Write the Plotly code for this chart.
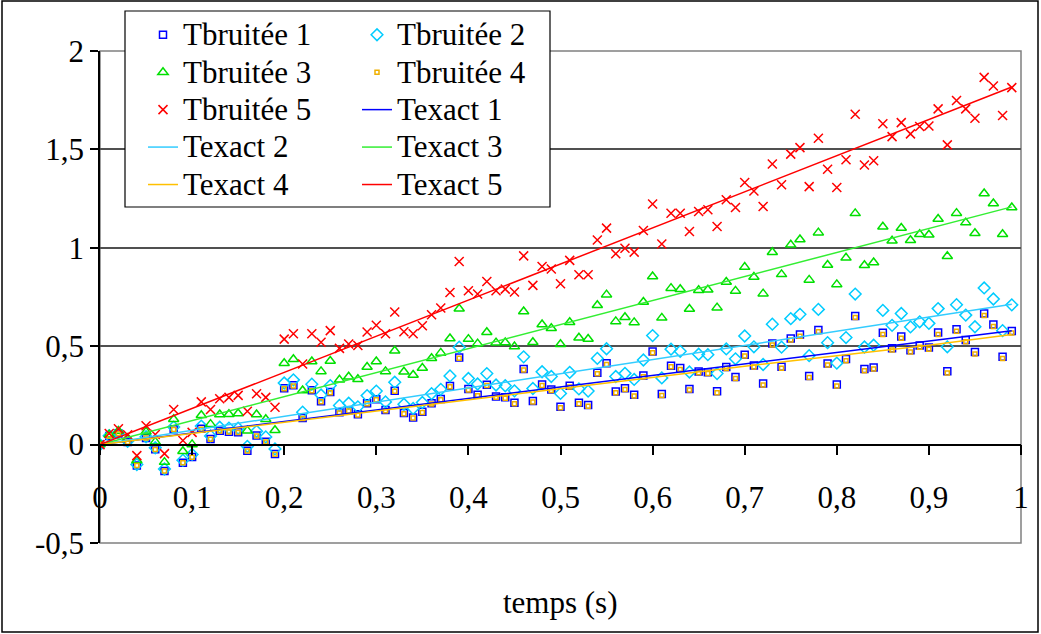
import plotly.graph_objects as go

# ---------------- data ----------------
temps = [0.00, 0.01, 0.02, 0.03, 0.04, 0.05, 0.06, 0.07, 0.08, 0.09,
         0.10, 0.11, 0.12, 0.13, 0.14, 0.15, 0.16, 0.17, 0.18, 0.19,
         0.20, 0.21, 0.22, 0.23, 0.24, 0.25, 0.26, 0.27, 0.28, 0.29,
         0.30, 0.31, 0.32, 0.33, 0.34, 0.35, 0.36, 0.37, 0.38, 0.39,
         0.40, 0.41, 0.42, 0.43, 0.44, 0.45, 0.46, 0.47, 0.48, 0.49,
         0.50, 0.51, 0.52, 0.53, 0.54, 0.55, 0.56, 0.57, 0.58, 0.59,
         0.60, 0.61, 0.62, 0.63, 0.64, 0.65, 0.66, 0.67, 0.68, 0.69,
         0.70, 0.71, 0.72, 0.73, 0.74, 0.75, 0.76, 0.77, 0.78, 0.79,
         0.80, 0.81, 0.82, 0.83, 0.84, 0.85, 0.86, 0.87, 0.88, 0.89,
         0.90, 0.91, 0.92, 0.93, 0.94, 0.95, 0.96, 0.97, 0.98, 0.99]

tbruitee_1 = [0.000, 0.044, 0.056, 0.013, -0.106, 0.034, -0.024, -0.134, 0.078, -0.092,
              -0.063, 0.080, 0.028, 0.071, 0.065, 0.063, -0.031, 0.046, 0.015, -0.048,
              0.286, 0.301, 0.135, 0.276, 0.220, 0.267, 0.164, 0.174, 0.154, 0.210,
              0.231, 0.176, 0.274, 0.161, 0.138, 0.167, 0.210, 0.232, 0.298, 0.443,
              0.282, 0.253, 0.304, 0.245, 0.240, 0.213, 0.384, 0.222, 0.305, 0.280,
              0.192, 0.299, 0.213, 0.201, 0.365, 0.413, 0.270, 0.286, 0.253, 0.351,
              0.473, 0.257, 0.401, 0.389, 0.283, 0.372, 0.368, 0.271, 0.394, 0.343,
              0.457, 0.402, 0.310, 0.514, 0.395, 0.539, 0.559, 0.349, 0.582, 0.412,
              0.306, 0.435, 0.654, 0.384, 0.392, 0.568, 0.490, 0.549, 0.479, 0.504,
              0.494, 0.569, 0.373, 0.586, 0.531, 0.471, 0.666, 0.610, 0.447, 0.577]

tbruitee_2 = [0.000, 0.045, 0.059, 0.017, -0.101, 0.040, -0.016, -0.124, 0.089, -0.079,
              -0.050, 0.094, 0.044, 0.088, 0.084, 0.083, -0.009, 0.068, 0.039, -0.022,
              0.313, 0.329, 0.165, 0.307, 0.252, 0.300, 0.199, 0.210, 0.192, 0.249,
              0.272, 0.217, 0.317, 0.205, 0.184, 0.214, 0.259, 0.281, 0.349, 0.495,
              0.336, 0.308, 0.361, 0.303, 0.299, 0.273, 0.446, 0.285, 0.370, 0.346,
              0.260, 0.367, 0.283, 0.272, 0.438, 0.487, 0.346, 0.362, 0.331, 0.430,
              0.554, 0.339, 0.485, 0.474, 0.369, 0.459, 0.457, 0.361, 0.486, 0.436,
              0.552, 0.497, 0.407, 0.612, 0.495, 0.640, 0.662, 0.452, 0.687, 0.518,
              0.414, 0.544, 0.765, 0.496, 0.505, 0.682, 0.606, 0.666, 0.598, 0.624,
              0.616, 0.691, 0.497, 0.711, 0.658, 0.599, 0.796, 0.740, 0.579, 0.710]

tbruitee_3 = [0.000, 0.050, 0.069, 0.032, -0.081, 0.065, 0.014, -0.089, 0.129, -0.034,
              0.001, 0.149, 0.104, 0.153, 0.154, 0.158, 0.071, 0.153, 0.129, 0.073,
              0.413, 0.434, 0.275, 0.422, 0.372, 0.425, 0.329, 0.345, 0.332, 0.394,
              0.422, 0.372, 0.477, 0.370, 0.354, 0.389, 0.439, 0.466, 0.539, 0.690,
              0.536, 0.513, 0.571, 0.518, 0.519, 0.498, 0.676, 0.520, 0.610, 0.591,
              0.510, 0.622, 0.543, 0.537, 0.708, 0.762, 0.626, 0.647, 0.621, 0.725,
              0.854, 0.644, 0.795, 0.789, 0.689, 0.784, 0.787, 0.696, 0.826, 0.781,
              0.902, 0.852, 0.767, 0.977, 0.865, 1.015, 1.042, 0.837, 1.077, 0.913,
              0.814, 0.949, 1.175, 0.911, 0.925, 1.107, 1.036, 1.101, 1.038, 1.069,
              1.066, 1.146, 0.957, 1.176, 1.128, 1.074, 1.276, 1.225, 1.069, 1.205]

tbruitee_4 = [0.000, 0.043, 0.056, 0.012, -0.106, 0.033, -0.025, -0.134, 0.077, -0.092,
              -0.064, 0.078, 0.027, 0.069, 0.064, 0.061, -0.033, 0.044, 0.013, -0.049,
              0.284, 0.298, 0.133, 0.273, 0.218, 0.264, 0.161, 0.171, 0.151, 0.207,
              0.228, 0.172, 0.271, 0.157, 0.135, 0.163, 0.206, 0.228, 0.294, 0.439,
              0.278, 0.248, 0.300, 0.240, 0.236, 0.208, 0.379, 0.217, 0.300, 0.275,
              0.187, 0.293, 0.208, 0.195, 0.360, 0.407, 0.264, 0.280, 0.247, 0.345,
              0.467, 0.250, 0.395, 0.382, 0.277, 0.365, 0.361, 0.264, 0.387, 0.336,
              0.450, 0.394, 0.303, 0.506, 0.388, 0.531, 0.551, 0.341, 0.574, 0.404,
              0.298, 0.426, 0.646, 0.375, 0.384, 0.559, 0.481, 0.540, 0.470, 0.495,
              0.485, 0.559, 0.364, 0.576, 0.522, 0.461, 0.656, 0.600, 0.437, 0.567]

tbruitee_5 = [0.000, 0.056, 0.081, 0.050, -0.056, 0.096, 0.051, -0.046, 0.178, 0.021,
              0.062, 0.217, 0.178, 0.233, 0.240, 0.250, 0.169, 0.258, 0.240, 0.190,
              0.536, 0.563, 0.410, 0.563, 0.520, 0.579, 0.489, 0.511, 0.504, 0.572,
              0.606, 0.563, 0.674, 0.573, 0.563, 0.604, 0.660, 0.694, 0.773, 0.930,
              0.782, 0.765, 0.829, 0.782, 0.790, 0.775, 0.959, 0.809, 0.905, 0.892,
              0.817, 0.936, 0.863, 0.863, 1.040, 1.100, 0.970, 0.998, 0.978, 1.088,
              1.223, 1.019, 1.176, 1.176, 1.083, 1.184, 1.193, 1.108, 1.244, 1.205,
              1.332, 1.289, 1.210, 1.426, 1.320, 1.476, 1.509, 1.311, 1.557, 1.399,
              1.306, 1.447, 1.679, 1.421, 1.442, 1.630, 1.565, 1.636, 1.579, 1.616,
              1.619, 1.706, 1.523, 1.748, 1.706, 1.658, 1.866, 1.822, 1.672, 1.814]

temps_exact = [0.0, 0.1, 0.2, 0.3, 0.4, 0.5, 0.6, 0.7, 0.8, 0.9, 0.99]
texact_1 = [0.0, 0.0585, 0.117, 0.1755, 0.234, 0.2925, 0.351, 0.4095, 0.468, 0.5265, 0.579]
texact_2 = [0.0, 0.072, 0.144, 0.216, 0.288, 0.360, 0.432, 0.504, 0.576, 0.648, 0.713]
texact_3 = [0.0, 0.122, 0.244, 0.366, 0.488, 0.610, 0.732, 0.854, 0.976, 1.098, 1.208]
texact_4 = [0.0, 0.057, 0.115, 0.172, 0.229, 0.286, 0.342, 0.398, 0.452, 0.505, 0.560]
texact_5 = [0.0, 0.1835, 0.367, 0.5505, 0.734, 0.9175, 1.101, 1.2845, 1.468, 1.6515, 1.817]

x_tick_vals = [0, 0.1, 0.2, 0.3, 0.4, 0.5, 0.6, 0.7, 0.8, 0.9, 1]
x_tick_text = ["0", "0,1", "0,2", "0,3", "0,4", "0,5", "0,6", "0,7", "0,8", "0,9", "1"]
y_tick_vals = [-0.5, 0, 0.5, 1, 1.5, 2]
y_tick_text = ["-0,5", "0", "0,5", "1", "1,5", "2"]
grid_vals = [0.5, 1, 1.5, 2]

# ---------------- figure ----------------
W, H = 1041, 634
ML, MR, MT, MB = 100, 20, 51, 91
PW, PH = W - ML - MR, H - MT - MB
FONT = "Liberation Serif"


def px2x(px):
    return (px - ML) / PW


def py2y(py):
    return (H - MB - py) / PH


def big(name):
    return "<span style='font-size:31px'>" + name + "</span>"


fig = go.Figure()

noisy = [
    ("Tbruitée 1", tbruitee_1, "square-open", 7, "#0000FF", "legend"),
    ("Tbruitée 2", tbruitee_2, "diamond-open", 9, "#00CCFF", "legend2"),
    ("Tbruitée 3", tbruitee_3, "triangle-up-open", 9, "#00E000", "legend"),
    ("Tbruitée 4", tbruitee_4, "square-open", 4, "#F0B000", "legend2"),
    ("Tbruitée 5", tbruitee_5, "x-thin-open", 9, "#FF0000", "legend"),
]
for name, ys, sym, size, col, leg in noisy:
    fig.add_trace(go.Scatter(
        x=temps, y=ys, mode="markers", name=big(name), legend=leg,
        marker=dict(symbol=sym, size=size, color=col, line=dict(color=col, width=1.5)),
    ))

exact = [
    ("Texact 1", texact_1, "#0000FF", 1.5, "legend2"),
    ("Texact 2", texact_2, "#33CCFF", 1.5, "legend"),
    ("Texact 3", texact_3, "#33EE33", 1.5, "legend2"),
    ("Texact 4", texact_4, "#FFC000", 1.5, "legend"),
    ("Texact 5", texact_5, "#FF0000", 1.5, "legend2"),
]
for name, ys, col, w, leg in exact:
    fig.add_trace(go.Scatter(
        x=temps_exact, y=ys, mode="lines", name=big(name), legend=leg,
        line=dict(color=col, width=w),
    ))

# gridlines via an overlay axis (only at 0.5 .. 2)
fig.add_trace(go.Scatter(x=[0], y=[0], yaxis="y2", mode="markers", showlegend=False,
                         marker=dict(opacity=0), hoverinfo="skip"))

LEG_FONT = dict(family=FONT, size=26.5, color="black")
fig.update_layout(
    width=W, height=H,
    margin=dict(l=ML, r=MR, t=MT, b=MB, autoexpand=False),
    paper_bgcolor="white", plot_bgcolor="white",
    font=dict(family=FONT, size=31, color="black"),
    xaxis=dict(range=[0, 1], tickmode="array", tickvals=x_tick_vals, ticktext=x_tick_text,
               anchor="free", position=0.2, showline=True, linecolor="black", linewidth=1.5,
               ticks="outside", ticklen=10, tickwidth=1.5, tickcolor="black",
               showgrid=False, zeroline=False, ticklabelstandoff=15,
               tickfont=dict(family=FONT, size=31, color="black")),
    yaxis=dict(range=[-0.5, 2], tickmode="array", tickvals=y_tick_vals, ticktext=y_tick_text,
               showline=True, linecolor="black", linewidth=1.5, ticks="outside", ticklen=8,
               tickwidth=1.5, tickcolor="black", showgrid=False, zeroline=False,
               tickfont=dict(family=FONT, size=31, color="black")),
    yaxis2=dict(overlaying="y", range=[-0.5, 2], tickmode="array", tickvals=grid_vals,
                showticklabels=False, ticks="", showgrid=True, gridcolor="#505050",
                gridwidth=1.5, zeroline=False, showline=False),
    legend=dict(xref="paper", yref="paper", x=px2x(143), y=py2y(11),
                xanchor="left", yanchor="top", bgcolor="rgba(0,0,0,0)", borderwidth=0,
                font=LEG_FONT, tracegroupgap=0),
    legend2=dict(xref="paper", yref="paper", x=px2x(357), y=py2y(11),
                 xanchor="left", yanchor="top", bgcolor="rgba(0,0,0,0)", borderwidth=0,
                 font=LEG_FONT, tracegroupgap=0),
    showlegend=True,
)

# plot-area border, chart frame, legend box
fig.add_shape(type="rect", xref="paper", yref="paper", x0=0, x1=1, y0=0, y1=1,
              line=dict(color="#808080", width=1.5), layer="below")
fig.add_shape(type="rect", xref="paper", yref="paper", x0=px2x(2), x1=px2x(1038),
              y0=py2y(632), y1=py2y(1), line=dict(color="black", width=1.5))
fig.add_shape(type="rect", xref="paper", yref="paper", x0=px2x(125), x1=px2x(550),
              y0=py2y(207), y1=py2y(11), line=dict(color="black", width=1.2),
              fillcolor="white", layer="above")

fig.add_annotation(text="temps (s)", xref="paper", yref="paper", x=0.5, y=py2y(602),
                   showarrow=False, yanchor="middle",
                   font=dict(family=FONT, size=31, color="black"))

fig.write_html("out.html", config={"displayModeBar": False},
               post_script="document.body.style.margin='0px';")
